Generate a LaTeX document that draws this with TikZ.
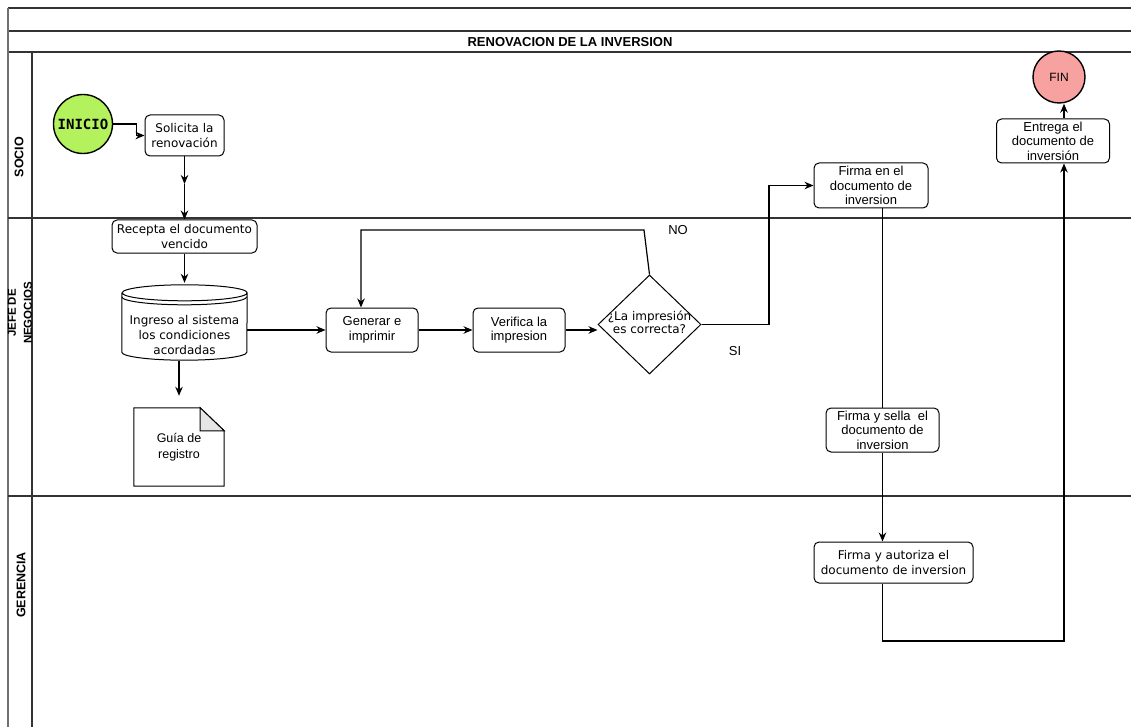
\documentclass[tikz,border=0pt]{standalone}
\usepackage{fontspec}
\setmainfont{Liberation Sans}
\newfontfamily\dvsans{DejaVu Sans}
\newfontfamily\dvmono{DejaVu Sans Mono}
\usetikzlibrary{arrows.meta,positioning,calc,shapes.geometric}
\definecolor{startgreen}{HTML}{B3F25C}
\definecolor{endred}{HTML}{F7A1A1}
\definecolor{lanegray}{HTML}{333333}
\definecolor{foldgray}{HTML}{E6E6E6}

\begin{document}
\begin{tikzpicture}[x=1pt, y=1pt,
  laneLine/.style ={draw=lanegray, line width=1.4pt},
  laneTitle/.style={font=\bfseries\fontsize{12.5}{15}\selectfont, rotate=90, align=center, inner sep=0pt},
  pBox/.style     ={draw, rounded corners=5pt, line width=1pt, align=center, inner sep=0pt, font=\fontsize{13}{14.5}\selectfont},
  pBoxDv/.style   ={pBox, font=\dvsans\fontsize{12}{15.5}\selectfont},
  pStart/.style   ={circle, draw, line width=1.4pt, fill=startgreen, inner sep=0pt, minimum size=59pt, font=\dvmono\bfseries\fontsize{14}{16}\selectfont},
  pEnd/.style     ={circle, draw, line width=1.4pt, fill=endred, inner sep=0pt, minimum size=52pt, font=\fontsize{12}{14}\selectfont},
  pDecision/.style={diamond, draw, line width=1pt, inner sep=0pt, aspect=1, minimum width=103pt, minimum height=99pt, font=\dvsans\fontsize{12}{14}\selectfont},
  pShape/.style   ={inner sep=0pt, align=center},
  shapeLine/.style={draw, line width=1pt},
  flowLine/.style ={draw, line width=1.2pt},
  flowArrow/.style={flowLine, -{Stealth[length=9pt, width=7.5pt]}},
  flowLabel/.style={font=\fontsize{13}{15}\selectfont, inner sep=0pt},
]
\useasboundingbox (0,0) rectangle (1131,-727);

% pool and lanes
\draw[laneLine, line width=1.9pt] (8,-8) -- (1131,-8);
\draw[laneLine] (8,-31) -- (1131,-31);
\draw[laneLine] (8,-52) -- (1131,-52);
\draw[laneLine, draw=lanegray!70] (8,-8) -- (8,-727);
\draw[laneLine] (32,-52) -- (32,-727);
\draw[laneLine] (8,-218) -- (1131,-218);
\draw[laneLine] (8,-496) -- (1131,-496);
\node[font=\bfseries\fontsize{13}{15}\selectfont] (title) at (570,-42) {RENOVACION DE LA INVERSION};
\node[laneTitle] (laneSocio) at (19,-157) {SOCIO};
\node[laneTitle, font=\bfseries\fontsize{11.5}{16}\selectfont] (laneJefe) at (20,-313) {JEFE DE\\NEGOCIOS};
\node[laneTitle] (laneGerencia) at (21,-585) {GERENCIA};

% SOCIO
\node[pStart] (inicio) at (83,-124) {INICIO};
\node[pBoxDv, minimum width=79pt, minimum height=41pt] (sol) at (184.5,-135.5) {Solicita la\\renovación};
\node[pEnd] (fin) at (1059,-77) {FIN};
\node[pBox, minimum width=113pt, minimum height=44pt] (ent) at (1053,-141) {Entrega el\\documento de\\inversión};
\node[pBox, minimum width=114pt, minimum height=45pt] (firm1) at (871,-185.5) {Firma en el\\documento de\\inversion};

% JEFE DE NEGOCIOS
\node[pBoxDv, minimum width=145pt, minimum height=33pt] (rec) at (184.5,-236.5) {Recepta el documento\\vencido};
\node[pShape, minimum width=125pt, minimum height=78pt] (ing) at (184.5,-322) {};
\draw[shapeLine] ($(ing.north west)+(0,-10)$) -- ($(ing.south west)+(0,9)$)
  arc[start angle=180, end angle=360, x radius=62.5, y radius=8]
  -- ($(ing.north east)+(0,-10)$)
  arc[start angle=0, end angle=360, x radius=62.5, y radius=8];
\draw[shapeLine] ($(ing.north west)+(0,-14)$) arc[start angle=180, end angle=360, x radius=62.5, y radius=8];
\node[pShape, font=\dvsans\fontsize{12}{15}\selectfont] (ingText) at ($(ing.center)+(0,-13)$) {Ingreso al sistema\\los condiciones\\acordadas};
\node[pShape, minimum width=90pt, minimum height=78pt, font=\fontsize{12.5}{16}\selectfont] (doc) at (179,-447) {Guía de\\registro};
\draw[shapeLine] (doc.north west) -- ($(doc.north east)+(-24,0)$) -- ($(doc.north east)+(0,-23)$)
  -- (doc.south east) -- (doc.south west) -- cycle;
\draw[shapeLine, fill=foldgray] ($(doc.north east)+(-24,0)$) -- ($(doc.north east)+(-24,-23)$) -- ($(doc.north east)+(0,-23)$) -- cycle;
\node[pBox, minimum width=92pt, minimum height=44pt] (gen) at (372,-330) {Generar e\\imprimir};
\node[pBox, minimum width=92pt, minimum height=44pt] (ver) at (519,-330) {Verifica la\\impresion};
\node[pDecision] (dec) at (649.5,-324.5) {\makebox[0pt]{\begin{tabular}{@{}c@{}}¿La impresión\\[-1pt]es correcta?\end{tabular}}};
\node[pBox, minimum width=113pt, minimum height=44pt] (firm2) at (882.5,-430) {Firma y sella\ \ el\\documento de\\inversion};

% GERENCIA
\node[pBoxDv, minimum width=159pt, minimum height=41pt] (aut) at (893.5,-562.5) {Firma y autoriza el\\documento de inversion};

% connectors
\coordinate (solMid) at (184.5,-184);
\coordinate (noBend) at (644,-230);
\coordinate (siBend) at (769,-324.5);
\coordinate (retBend) at (1064,-641);
\draw[flowArrow] (inicio.east) -- ++(23,0) |- (sol.west);
\draw[flowArrow] (sol.south) -- (solMid);
\draw[flowArrow] (solMid) -- (rec.north);
\draw[flowArrow] (rec.south) -- (ing.north);
\draw[flowArrow, shorten >=12pt] (doc.north |- ing.south) -- (doc.north);
\draw[flowArrow] (ing.east |- gen.west) -- (gen.west);
\draw[flowArrow] (gen.east) -- (ver.west);
\draw[flowArrow] (ver.east) -- (ver.east -| dec.west);
\draw[flowArrow] (dec.north) -- (noBend) -| ([xshift=-11pt]gen.north);
\node[flowLabel] (noLabel) at (678,-230) {NO};
\draw[flowArrow] (dec.east) -- (siBend) |- (firm1.west);
\node[flowLabel] (siLabel) at (735,-351) {SI};
\draw[flowLine] (firm1.south -| firm2.north) -- (firm2.north);
\draw[flowArrow] (firm2.south) -- (firm2.south |- aut.north);
\draw[flowArrow] (firm2.south |- aut.south) |- (retBend) -- (retBend |- ent.south);
\draw[flowArrow] (retBend |- ent.north) -- (retBend |- fin.south);
\end{tikzpicture}
\end{document}
